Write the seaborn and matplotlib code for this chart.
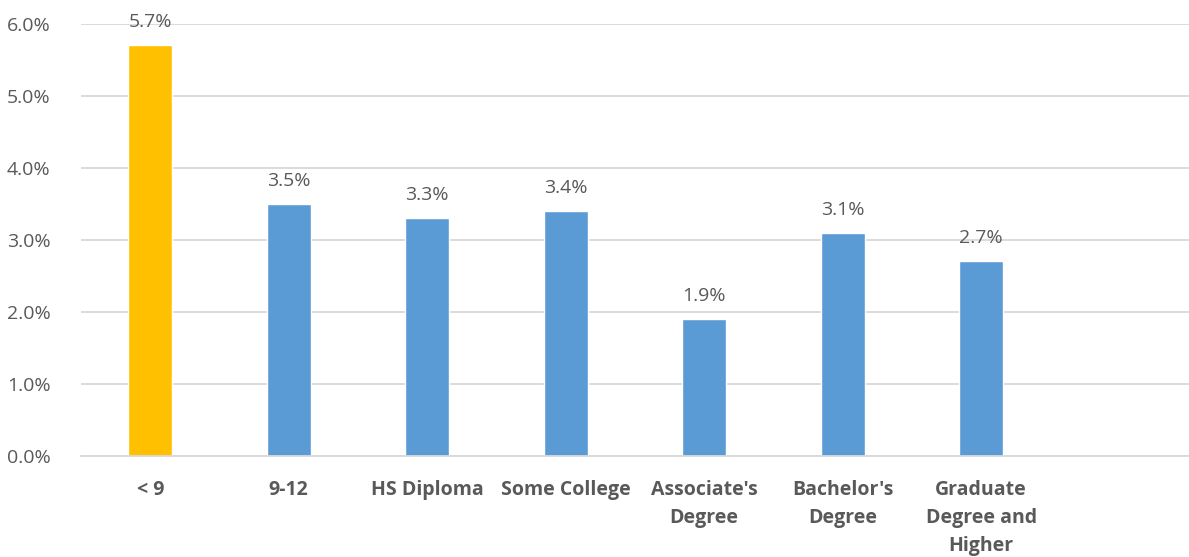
import matplotlib
matplotlib.use("Agg")
import matplotlib.pyplot as plt
import seaborn as sns
import pandas as pd
from matplotlib.ticker import FuncFormatter

categories = ["< 9", "9-12", "HS Diploma", "Some College", "Associate's\nDegree",
              "Bachelor's\nDegree", "Graduate\nDegree and\nHigher"]
values = [5.7, 3.5, 3.3, 3.4, 1.9, 3.1, 2.7]
colors = ["#FFC000", "#5B9BD5", "#5B9BD5", "#5B9BD5", "#5B9BD5", "#5B9BD5", "#5B9BD5"]
yticks = [0, 1, 2, 3, 4, 5, 6]

sns.set_theme(style="white")
plt.rcParams['font.family'] = ['Open Sans', 'DejaVu Sans']
text_color = "#595959"
grid_color = "#D9D9D9"

df = pd.DataFrame({"cat": categories, "val": values})

fig = plt.figure(figsize=(11.89, 5.57), dpi=100)
ax = fig.add_axes([0.0681, 0.1813, 0.9319, 0.7765])
sns.barplot(data=df, x="cat", y="val", hue="cat", palette=colors, order=categories,
            width=0.32, legend=False, ax=ax, saturation=1)

ax.set_xlim(-0.5, 7.5)
ax.set_ylim(0, 6)
ax.set_yticks(yticks)
ax.yaxis.set_major_formatter(FuncFormatter(lambda v, p: f"{v:.1f}%"))
ax.grid(axis="y", color=grid_color, linewidth=1.3)
ax.set_axisbelow(True)
for s in ["top", "right", "left"]:
    ax.spines[s].set_visible(False)
ax.spines["bottom"].set_color(grid_color)
ax.spines["bottom"].set_linewidth(1.3)
ax.tick_params(axis="y", length=0, pad=22, labelsize=14, labelcolor=text_color)
ax.tick_params(axis="x", length=0, pad=17, labelsize=14, labelcolor=text_color)
for lbl in ax.get_xticklabels():
    lbl.set_fontweight("bold")
    lbl.set_linespacing(1.55)
ax.set_xlabel("")
ax.set_ylabel("")

for cont in ax.containers:
    ax.bar_label(cont, labels=[f"{v:.1f}%" for v in cont.datavalues], padding=10,
                 fontsize=14, color=text_color)

fig.savefig("out.png", dpi=100)
